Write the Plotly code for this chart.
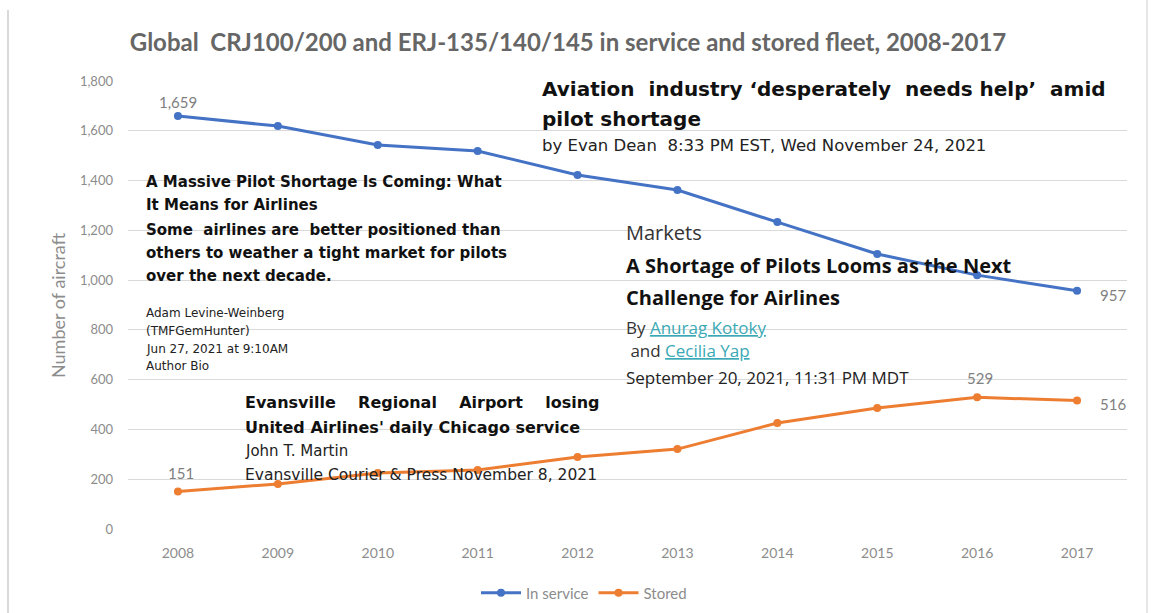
import plotly.graph_objects as go

years = ["2008", "2009", "2010", "2011", "2012", "2013", "2014", "2015", "2016", "2017"]
in_service = [1659, 1619, 1543, 1519, 1422, 1362, 1233, 1105, 1020, 957]
stored = [151, 181, 225, 237, 289, 321, 426, 486, 529, 516]
y_ticks = [0, 200, 400, 600, 800, 1000, 1200, 1400, 1600, 1800]

BLUE = "#4472C4"
ORANGE = "#ED7D31"
GRAY = "#8c8c8c"

W, H = 1151, 613
L, R, T, B = 128, 1127, 81, 529


def px(x):
    return (x - L) / (R - L)


def py(y):
    return (B - y) / (B - T)


fig = go.Figure()
fig.add_trace(go.Scatter(x=years, y=in_service, name="In service", mode="lines+markers",
                         line=dict(color=BLUE, width=3), marker=dict(size=8, color=BLUE)))
fig.add_trace(go.Scatter(x=years, y=stored, name="Stored", mode="lines+markers",
                         line=dict(color=ORANGE, width=3), marker=dict(size=8, color=ORANGE)))

ann = []
LATO = "Lato, sans-serif"
lbl_font = dict(family=LATO, size=15, color="#7f7f7f")


def data_label(idx, series, xs, ys):
    ann.append(dict(x=idx, y=series[idx], xref="x", yref="y", text=f"{series[idx]:,}",
                    showarrow=False, xshift=xs, yshift=ys, font=lbl_font))


# data labels (x given as category index)
data_label(0, in_service, 0, 14)
data_label(9, in_service, 36, -4)
data_label(0, stored, 3, 18)
data_label(8, stored, 3, 19)
data_label(9, stored, 36, -3)


def txt(x, y, s, size, bold=False, color="#111111", family="DejaVu Sans, sans-serif"):
    if bold:
        s = "<b>" + s + "</b>"
    ann.append(dict(x=px(x), y=py(y), xref="paper", yref="paper", text=s, showarrow=False,
                    xanchor="left", yanchor="middle", align="left",
                    font=dict(family=family, size=size, color=color)))


# Snippet: Aviation industry
txt(540, 89, "Aviation  industry ‘desperately  needs help’  amid", 20, True)
txt(540, 119, "pilot shortage", 20, True)
txt(540, 145, "by Evan Dean  8:33 PM EST, Wed November 24, 2021", 16.5, False, "#222222")

# Snippet: Motley Fool
txt(144, 182, "A Massive Pilot Shortage Is Coming: What", 15, True)
txt(144, 205, "It Means for Airlines", 15, True)
txt(144, 230, "Some  airlines are  better positioned than", 15, True)
txt(144, 253, "others to weather a tight market for pilots", 15, True)
txt(144, 276, "over the next decade.", 15, True)
txt(144, 313, "Adam Levine-Weinberg", 12, False, "#222222")
txt(144, 331, "(TMFGemHunter)", 12, False, "#222222")
txt(144, 349, "Jun 27, 2021 at 9:10AM", 12, False, "#222222")
txt(144, 366, "Author Bio", 12, False, "#222222")

# Snippet: Markets
OS = "Open Sans, sans-serif"
txt(624, 232, "Markets", 20, False, "#333333", OS)
txt(624, 265, "A Shortage of Pilots Looms as the Next", 20, True, "#111111", OS)
txt(624, 297, "Challenge for Airlines", 20, True, "#111111", OS)
txt(624, 327, "By <span style='color:#3aa9b5'><u>Anurag Kotoky</u></span>", 17, False, "#333333", OS)
txt(624, 350, " and <span style='color:#3aa9b5'><u>Cecilia Yap</u></span>", 17, False, "#333333", OS)
txt(624, 377, "September 20, 2021, 11:31 PM MDT", 17, False, "#222222", OS)

# Snippet: Evansville
txt(243, 402, "Evansville    Regional    Airport    losing", 16, True)
txt(243, 427, "United Airlines' daily Chicago service", 16, True)
txt(243, 451, "John T. Martin", 15, False, "#222222")
txt(243, 475, "Evansville Courier &amp; Press November 8, 2021", 15.5, False, "#222222")

# axis title
ann.append(dict(x=px(45), y=py(305), xref="paper", yref="paper", text="Number of aircraft",
                showarrow=False, textangle=-90, font=dict(family=LATO, size=18, color=GRAY)))

shapes = [
    dict(type="line", xref="paper", yref="paper", x0=px(8), x1=px(8), y0=py(10), y1=py(613),
         line=dict(color="#d9d9d9", width=2)),
    dict(type="line", xref="paper", yref="paper", x0=px(1147), x1=px(1147), y0=py(0), y1=py(613),
         line=dict(color="#e6e6e6", width=2)),
]

fig.update_layout(
    width=W, height=H,
    margin=dict(l=L, r=W - R, t=T, b=H - B),
    paper_bgcolor="white", plot_bgcolor="white",
    title=dict(text="<b>Global  CRJ100/200 and ERJ-135/140/145 in service and stored fleet, 2008-2017</b>",
               xref="container", yref="container",
               x=568 / W, xanchor="center", y=1 - 43 / H, yanchor="middle",
               font=dict(family=LATO, size=24, color="#666666")),
    xaxis=dict(type="category", range=[-0.5, 9.5], showgrid=False, zeroline=False, showline=False,
               ticks="", tickfont=dict(family=LATO, size=14, color=GRAY), ticklabelstandoff=14),
    yaxis=dict(range=[0, 1800], tickvals=y_ticks, ticktext=[f"{v:,}" for v in y_ticks],
               showgrid=True, gridcolor="#d9d9d9", gridwidth=1, zeroline=False, showline=False,
               tickfont=dict(family=LATO, size=13, color=GRAY), ticklabelstandoff=14),
    legend=dict(orientation="h", xref="container", yref="container",
                x=584 / W, xanchor="center", y=1 - 593 / H, yanchor="middle",
                font=dict(family=LATO, size=15, color=GRAY), itemwidth=40),
    annotations=ann,
    shapes=shapes,
    showlegend=True,
)

fig.write_html("out.html")
